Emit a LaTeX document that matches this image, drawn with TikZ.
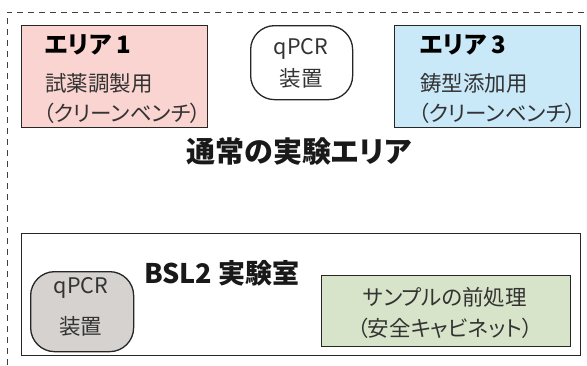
\documentclass[tikz,border=0pt]{standalone}
\usepackage{fontspec}
\setmainfont{Noto Sans CJK JP}[RawFeature=+palt]
\usetikzlibrary{positioning}
\definecolor{areapink}{HTML}{F9D4D0}
\definecolor{areablue}{HTML}{C9E9F9}
\definecolor{devgray}{HTML}{D5D2CF}
\definecolor{cabgreen}{HTML}{D8E4C9}
\begin{document}
\begin{tikzpicture}[x=1pt,y=-1pt,
    box/.style={draw=black!85,line width=1.3pt,anchor=north west,inner sep=0pt},
    device/.style={box,rounded corners=24pt},
    boxtitle/.style={anchor=west,inner sep=0pt,font=\fontsize{24}{28}\selectfont\bfseries},
    boxtext/.style={inner sep=0pt,text=black!80,font=\fontsize{21.5}{26}\selectfont},
    roomtitle/.style={inner sep=0pt,text=black!90,font=\fontsize{29}{34}\selectfont\bfseries}]
    \useasboundingbox (0,0) rectangle (587,365);
    % normal lab area, only top and left edges are visible
    \draw[black!75,line width=1pt,dash pattern=on 6pt off 5pt] (7,365) -- (7,12) -- (587,12);
    % area 1
    \node[box,fill=areapink,minimum width=186pt,minimum height=102pt] (area1) at (21,25) {};
    \node[boxtitle] (area1title) at (45,45) {エリア 1};
    \node[boxtext,anchor=west] (area1use) at (45,83) {試薬調製用};
    \node[boxtext,anchor=west] (area1bench) at (43,113) {（クリーンベンチ）};
    % qPCR in the normal area
    \node[device,fill=white,minimum width=102pt,minimum height=74pt] (qpcr1) at (250,25) {};
    \node[boxtext] (qpcr1a) at (301,49) {qPCR};
    \node[boxtext] (qpcr1b) at (301,78) {装置};
    % area 3
    \node[box,fill=areablue,minimum width=186pt,minimum height=102pt] (area3) at (394,25) {};
    \node[boxtitle] (area3title) at (420,45) {エリア 3};
    \node[boxtext,anchor=west] (area3use) at (420,83) {鋳型添加用};
    \node[boxtext,anchor=west] (area3bench) at (418,113) {（クリーンベンチ）};
    \node[roomtitle] (normal) at (299,152) {通常の実験エリア};
    % BSL2 room
    \node[box,fill=white,minimum width=559pt,minimum height=122pt] (bsl) at (21,233) {};
    \node[roomtitle,font=\fontsize{27}{32}\selectfont\bfseries] (bsltitle) at (222,273) {BSL2 実験室};
    \node[device,fill=devgray,minimum width=103pt,minimum height=80pt] (qpcr2) at (30,271) {};
    \node[boxtext] (qpcr2a) at (81,288) {qPCR};
    \node[boxtext] (qpcr2b) at (81,326) {装置};
    \node[box,fill=cabgreen,minimum width=249pt,minimum height=71pt] (cabinet) at (321,275) {};
    \node[boxtext] (cabineta) at (445,297) {サンプルの前処理};
    \node[boxtext] (cabinetb) at (445,328) {（安全キャビネット）};
\end{tikzpicture}
\end{document}
